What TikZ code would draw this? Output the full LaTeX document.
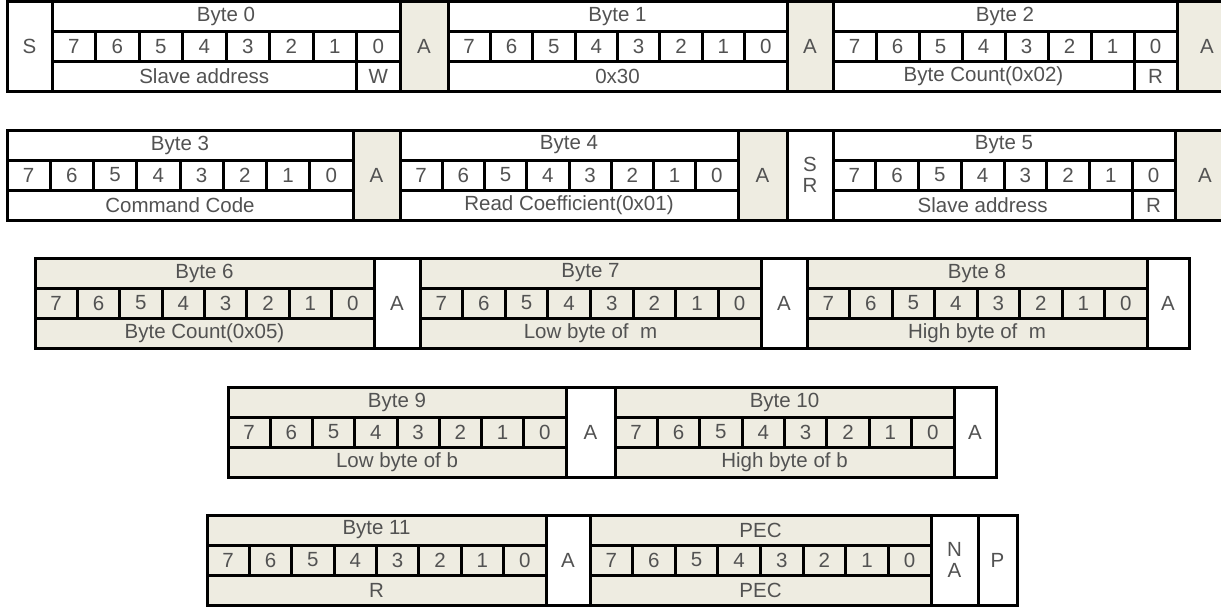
\documentclass[tikz,border=0pt]{standalone}
\usepackage{fontspec}
\setmainfont{Liberation Sans}
\usepackage{xcolor}
\usepackage{tikz}
\definecolor{mytan}{RGB}{238,236,225}
\definecolor{mygray}{RGB}{82,82,82}
\tikzset{
  cell/.style={rectangle, draw=black, line width=3pt, minimum height=30pt,
    inner sep=0pt, outer sep=0pt, anchor=north west, text=mygray,
    font=\fontsize{20.5}{21}\selectfont},
  tallcell/.style={cell, minimum height=90pt, align=center},
  wfill/.style={fill=white},
  tfill/.style={fill=mytan}
}
% one byte: header, bits 7..0, footer (optional last-bit flag)
\newcommand{\drawbyte}[8][]{%
  \pgfmathsetmacro\bitw{#5/8}
  \pgfmathsetmacro\footw{7*#5/8}
  \node[cell, #6, minimum width=#5pt] (#2-head) at (#3,#4) {#7};
  \foreach \b in {0,...,7}{
    \pgfmathtruncatemacro\bitno{7-\b}
    \node[cell, #6, minimum width=\bitw pt] (#2-bit\bitno) at ({#3+\b*\bitw},#4+30) {\bitno};
  }
  \def\flagtext{#1}
  \ifx\flagtext\empty
    \node[cell, #6, minimum width=#5pt] (#2-foot) at (#3,#4+60) {#8};
  \else
    \node[cell, #6, minimum width=\footw pt] (#2-foot) at (#3,#4+60) {#8};
    \node[cell, #6, minimum width=\bitw pt] (#2-flag) at ({#3+7*\bitw},#4+60) {#1};
  \fi
}
\begin{document}
\begin{tikzpicture}[x=1pt, y=-1pt]
  \clip (0,0) rectangle (1221,606);
  \fill[white] (0,0) rectangle (1221,606);

  % --- Row 1: write address, command ---
  \node[tallcell, wfill, minimum width=45pt] (start) at (7,1.5) {S};
  \drawbyte[W]{byte0}{52}{1.5}{348}{wfill}{Byte 0}{Slave address}
  \node[tallcell, tfill, minimum width=48pt] (ack0) at (400,1.5) {A};
  \drawbyte{byte1}{448}{1.5}{339}{wfill}{Byte 1}{0x30}
  \node[tallcell, tfill, minimum width=46pt] (ack1) at (787,1.5) {A};
  \drawbyte[R]{byte2}{833}{1.5}{344}{wfill}{Byte 2}{Byte Count(0x02)}
  \node[tallcell, tfill, minimum width=60pt] (ack2) at (1177,1.5) {A};

  % --- Row 2: command code, restart ---
  \drawbyte{byte3}{7}{130}{346}{wfill}{Byte 3}{Command Code}
  \node[tallcell, tfill, minimum width=47pt] (ack3) at (353,130) {A};
  \drawbyte{byte4}{400}{130}{338}{wfill}{Byte 4}{Read Coefficient(0x01)}
  \node[tallcell, tfill, minimum width=49pt] (ack4) at (738,130) {A};
  \node[tallcell, wfill, minimum width=46pt] (restart) at (787,130) {S\\R};
  \drawbyte[R]{byte5}{833}{130}{342}{wfill}{Byte 5}{Slave address}
  \node[tallcell, tfill, minimum width=60pt] (ack5) at (1175,130) {A};

  % --- Row 3: slave data ---
  \drawbyte{byte6}{35}{258}{339}{tfill}{Byte 6}{Byte Count(0x05)}
  \node[tallcell, wfill, minimum width=46pt] (ack6) at (374,258) {A};
  \drawbyte{byte7}{420}{258}{341}{tfill}{Byte 7}{Low byte of~~m}
  \node[tallcell, wfill, minimum width=46pt] (ack7) at (761,258) {A};
  \drawbyte{byte8}{807}{258}{340}{tfill}{Byte 8}{High byte of~~m}
  \node[tallcell, wfill, minimum width=42pt] (ack8) at (1147,258) {A};

  % --- Row 4 ---
  \drawbyte{byte9}{228}{387}{338}{tfill}{Byte 9}{Low byte of b}
  \node[tallcell, wfill, minimum width=49pt] (ack9) at (566,387) {A};
  \drawbyte{byte10}{615}{387}{339}{tfill}{Byte 10}{High byte of b}
  \node[tallcell, wfill, minimum width=42pt] (ack10) at (954,387) {A};

  % --- Row 5: reserved, PEC, stop ---
  \drawbyte{byte11}{207}{515}{339}{tfill}{Byte 11}{R}
  \node[tallcell, wfill, minimum width=44pt] (ack11) at (546,515) {A};
  \drawbyte{pec}{590}{515}{341}{tfill}{PEC}{PEC}
  \node[tallcell, wfill, minimum width=47pt] (nack) at (931,515) {N\\A};
  \node[tallcell, wfill, minimum width=39pt] (stop) at (978,515) {P};
\end{tikzpicture}
\end{document}
